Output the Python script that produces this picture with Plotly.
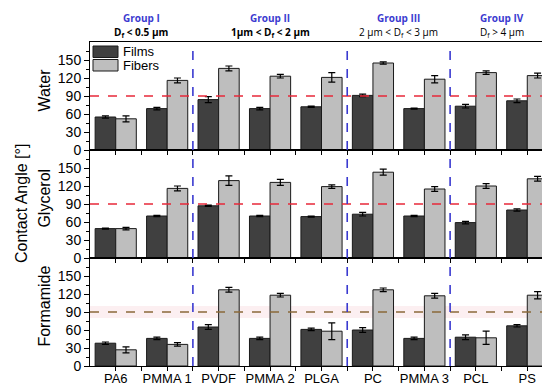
import plotly.graph_objects as go
from plotly.subplots import make_subplots

categories = ["PA6", "PMMA 1", "PVDF", "PMMA 2", "PLGA", "PC", "PMMA 3", "PCL", "PS"]
liquids = ["Water", "Glycerol", "Formamide"]

water_films = [55, 69, 84, 69, 72, 91, 69, 73, 82]
water_films_err = [2, 2, 5, 2, 1, 2, 1, 3, 3]
water_fibers = [52, 116, 136, 123, 121, 145, 118, 129, 124]
water_fibers_err = [5, 4, 4, 3, 8, 2, 6, 3, 4]

glycerol_films = [49, 70, 87, 70, 69, 73, 70, 59, 80]
glycerol_films_err = [1, 1, 1, 1, 1, 3, 1, 2, 2]
glycerol_fibers = [49, 116, 129, 126, 119, 143, 115, 120, 132]
glycerol_fibers_err = [2, 4, 8, 5, 3, 5, 4, 4, 4]

formamide_films = [38, 46, 65, 46, 61, 60, 46, 48, 67]
formamide_films_err = [2, 2, 4, 2, 2, 4, 2, 4, 2]
formamide_fibers = [27, 36, 127, 118, 58, 127, 117, 47, 118]
formamide_fibers_err = [5, 3, 4, 3, 14, 3, 4, 11, 6]

groups = ["Group I", "Group II", "Group III", "Group IV"]
group_ranges = [(0, 1), (2, 4), (5, 6), (7, 8)]
group_sub = ["D<sub>f</sub> < 0.5 µm", "1µm < D<sub>f</sub> < 2 µm",
             "2 µm < D<sub>f</sub> < 3 µm", "D<sub>f</sub> > 4 µm"]
group_sub_bold = [True, True, False, False]
threshold = 90

films = [water_films, glycerol_films, formamide_films]
films_err = [water_films_err, glycerol_films_err, formamide_films_err]
fibers = [water_fibers, glycerol_fibers, formamide_fibers]
fibers_err = [water_fibers_err, glycerol_fibers_err, formamide_fibers_err]

W, H = 550, 385
L, R, T, B = 82, 5, 34, 27
pw, ph = W - L - R, H - T - B

def px(x):
    return (x - L) / pw

def py(y):
    return (H - B - y) / ph

FILM = "#404040"
FIBER = "#bebebe"
EDGE = "#1a1a1a"
FONT = "Liberation Sans, Arial, sans-serif"

fig = make_subplots(rows=3, cols=1, shared_xaxes=True, vertical_spacing=0)
xs = list(range(len(categories)))
for i in range(3):
    fig.add_trace(go.Bar(x=xs, y=films[i], name="Films", marker_color=FILM,
                         marker_line=dict(color=EDGE, width=1),
                         error_y=dict(type="data", array=films_err[i], color="black", thickness=1.2, width=3.5),
                         showlegend=False), row=i + 1, col=1)
    fig.add_trace(go.Bar(x=xs, y=fibers[i], name="Fibers", marker_color=FIBER,
                         marker_line=dict(color=EDGE, width=1),
                         error_y=dict(type="data", array=fibers_err[i], color="black", thickness=1.2, width=3.5),
                         showlegend=False), row=i + 1, col=1)

tick_positions = sorted(xs + [k + 0.5 for k in range(len(categories) - 1)])

for i in range(3):
    yname = "y" if i == 0 else f"y{i+1}"
    xname = "x" if i == 0 else f"x{i+1}"
    fig.update_yaxes(row=i + 1, col=1, range=[0, 180], tickvals=[0, 30, 60, 90, 120, 150],
                     ticks="outside", ticklen=5, tickwidth=1, tickcolor="black",
                     minor=dict(tickvals=[15, 45, 75, 105, 135, 165], ticks="outside", ticklen=3, tickcolor="black"),
                     showline=True, linecolor="black", linewidth=1, mirror=True,
                     showgrid=False, zeroline=False,
                     tickfont=dict(family=FONT, size=14, color="black"))
    fig.update_xaxes(row=i + 1, col=1, range=[-0.5, 8.5], tickvals=xs, ticktext=categories,
                     showticklabels=(i == 2),
                     ticks="",
                     minor=dict(tickvals=tick_positions, ticks="outside", ticklen=4, tickcolor="black"),
                     showline=True, linecolor="black", linewidth=1, mirror=True,
                     showgrid=False, zeroline=False,
                     tickfont=dict(family=FONT, size=13, color="black"))
    if i < 2:
        fig.add_shape(type="line", xref=f"{xname} domain", yref=yname, x0=0, x1=1,
                      y0=threshold, y1=threshold, line=dict(color="#e8283a", width=1.6, dash="dash"))
    else:
        fig.add_shape(type="rect", xref=f"{xname} domain", yref=yname, x0=0, x1=1,
                      y0=threshold - 10, y1=threshold + 10, fillcolor="rgba(245,190,200,0.25)",
                      line=dict(width=0), layer="below")
        fig.add_shape(type="line", xref=f"{xname} domain", yref=yname, x0=0, x1=1,
                      y0=threshold, y1=threshold, line=dict(color="#8a6a3a", width=1.6, dash="dash"))
    fig.add_annotation(text=liquids[i], xref="paper", yref=f"{yname} domain", x=px(37), y=0.55,
                       textangle=-90, showarrow=False, font=dict(family=FONT, size=16, color="black"),
                       xanchor="center", yanchor="middle")

for k in range(len(group_ranges) - 1):
    xb = (group_ranges[k][1] + group_ranges[k + 1][0]) / 2
    fig.add_shape(type="line", xref="x3", yref="paper", x0=xb, x1=xb, y0=0, y1=1,
                  line=dict(color="#3a3ad0", width=1.6, dash="dash"))

for g, (a, b), sub, bold in zip(groups, group_ranges, group_sub, group_sub_bold):
    xc = (a + b) / 2
    fig.add_annotation(text=f"<b>{g}</b>", xref="x3", yref="paper", x=xc, y=py(10),
                       showarrow=False, font=dict(family="Open Sans", size=10, color="#3b3bd0"),
                       xanchor="center", yanchor="middle")
    fig.add_annotation(text=f"<b>{sub}</b>" if bold else sub, xref="x3", yref="paper", x=xc, y=py(24),
                       showarrow=False, font=dict(family="Open Sans", size=10, color="black"),
                       xanchor="center", yanchor="middle")

for (y0, y1), col, lab in [((38, 49.5), FILM, "Films"), ((51.5, 63), FIBER, "Fibers")]:
    fig.add_shape(type="rect", xref="paper", yref="paper", x0=px(85), x1=px(110),
                  y0=py(y1), y1=py(y0), fillcolor=col, line=dict(color=EDGE, width=1))
    fig.add_annotation(text=lab, xref="paper", yref="paper", x=px(113), y=py((y0 + y1) / 2),
                       showarrow=False, xanchor="left", yanchor="middle",
                       font=dict(family=FONT, size=13, color="black"))

fig.add_annotation(text="Contact Angle [°]", xref="paper", yref="paper", x=px(13), y=0.5,
                   textangle=-90, showarrow=False, xanchor="center", yanchor="middle",
                   font=dict(family=FONT, size=16, color="black"))

fig.update_layout(width=W, height=H, margin=dict(l=L, r=R, t=T, b=B),
                  barmode="group", bargap=0.2, bargroupgap=0,
                  plot_bgcolor="white", paper_bgcolor="white", showlegend=False)

fig.write_html("out.html")
